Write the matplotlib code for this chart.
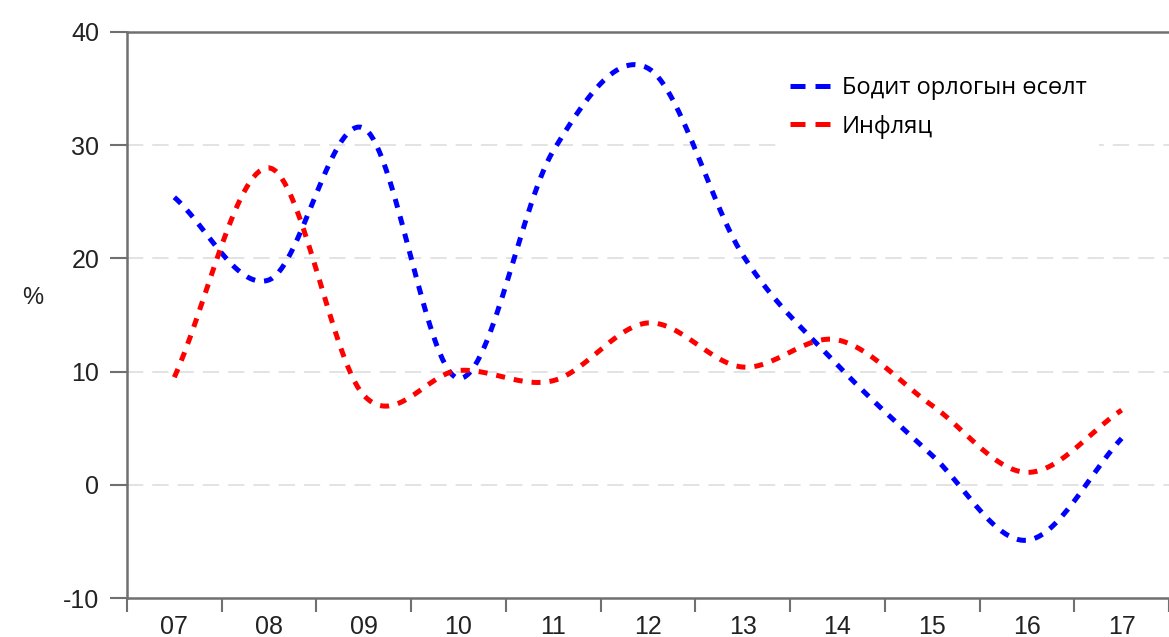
import numpy as np
import matplotlib.pyplot as plt
from matplotlib.lines import Line2D

plt.rcParams['axes.unicode_minus'] = False

years = ['07', '08', '09', '10', '11', '12', '13', '14', '15', '16', '17']
real_income = [25.4, 18.1, 31.5, 9.4, 29.5, 36.8, 20.3, 10.6, 2.6, -4.9, 4.1]
inflation = [9.5, 28.0, 7.9, 10.1, 9.2, 14.3, 10.4, 12.8, 7.0, 1.1, 6.6]
labels = ['Бодит орлогын өсөлт', 'Инфляц']
colors = ['blue', 'red']

DASH = (1.8, 1.8)


def smooth(y, n=30):
    # Catmull-Rom style curve through the points (just for drawing)
    y = np.asarray(y, dtype=float)
    p = np.concatenate([[2 * y[0] - y[1]], y, [2 * y[-1] - y[-2]]])
    xs, ys = [], []
    t = np.linspace(0, 1, n, endpoint=False)
    for i in range(1, len(p) - 2):
        p0, p1, p2, p3 = p[i - 1], p[i], p[i + 1], p[i + 2]
        seg = 0.5 * ((2 * p1) + (-p0 + p2) * t + (2 * p0 - 5 * p1 + 4 * p2 - p3) * t ** 2
                     + (-p0 + 3 * p1 - 3 * p2 + p3) * t ** 3)
        xs.append(i - 1 + t)
        ys.append(seg)
    xs.append([len(y) - 1])
    ys.append([y[-1]])
    return np.concatenate(xs), np.concatenate(ys)


fig = plt.figure(figsize=(11.69, 6.37), dpi=100)
ax = fig.add_axes([0.1086, 0.0612, 0.8914, 0.8886])

for series, c in zip([real_income, inflation], colors):
    sx, sy = smooth(series)
    ax.plot(sx, sy, color=c, lw=3.6, dashes=DASH, dash_capstyle='butt', zorder=3)

ax.set_xlim(-0.5, len(years) - 0.5)
ax.set_ylim(-10, 40)
ax.set_yticks([-10, 0, 10, 20, 30, 40])
ax.set_xticks(np.arange(len(years)))
ax.set_xticklabels(years)
ax.set_xticks(np.arange(len(years) + 1) - 0.5, minor=True)
ax.tick_params(axis='x', which='major', length=0, pad=12)
ax.tick_params(axis='x', which='minor', length=10, width=1.5, color='#707070')
ax.tick_params(axis='y', length=12, width=1.5, color='#707070', pad=8)
for lab in ax.get_xticklabels() + ax.get_yticklabels():
    lab.set_fontfamily('Liberation Sans')
    lab.set_fontsize(18)
    lab.set_color('#222222')

for y in [0, 10, 20, 30]:
    ax.axhline(y, color='#e0e0e0', lw=1.3, ls=(0, (9, 5)), zorder=1)

for side in ['left', 'bottom', 'top']:
    ax.spines[side].set_color('#707070')
    ax.spines[side].set_linewidth(1.8)
ax.spines['right'].set_visible(False)

ax.set_ylabel('%', rotation=0, fontsize=17, family='Liberation Sans', color='#222222')
ax.yaxis.set_label_coords(-0.09, 0.51)

handles = [Line2D([0], [0], color=c, lw=3.6, dashes=(3, 2), dash_capstyle='butt') for c in colors]
leg = ax.legend(handles, labels, loc='upper left', bbox_to_anchor=(0.625, 0.943),
                frameon=True, framealpha=1, edgecolor='white', fancybox=False,
                prop={'family': 'Open Sans', 'size': 17}, handlelength=1.75,
                handletextpad=0.45, labelspacing=0.62, borderpad=0.5, borderaxespad=0)
leg.get_frame().set_linewidth(0)

fig.savefig('out.png', dpi=100)
